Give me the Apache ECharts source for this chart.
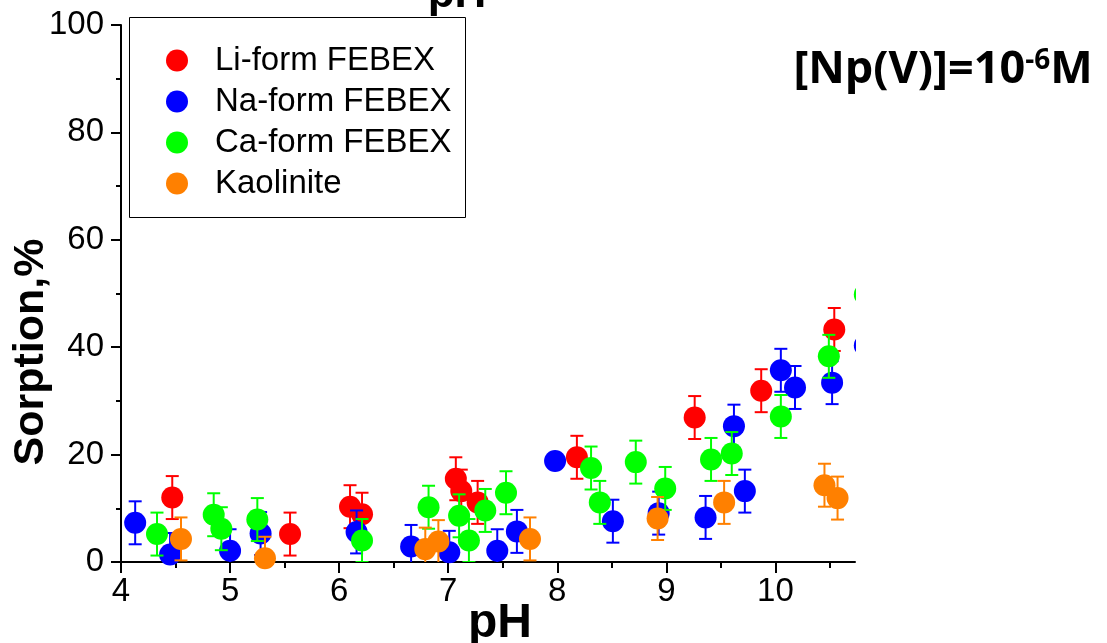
<!DOCTYPE html>
<html>
<head>
<meta charset="utf-8">
<title>Np(V) sorption vs pH</title>
<script src="https://cdn.jsdelivr.net/npm/echarts@6/dist/echarts.min.js"></script>
<style>
  html, body { margin: 0; padding: 0; background: #fff; }
  #main { width: 1107px; height: 643px; }
</style>
</head>
<body>
<div id="main"></div>
<script>
// series names
var seriesNames = ['Li-form FEBEX', 'Na-form FEBEX', 'Ca-form FEBEX', 'Kaolinite'];
var seriesColors = ['#ff0000', '#0000ff', '#00ff00', '#ff8000'];

// Li-form FEBEX
var liPH   = [4.47, 5.55, 6.10, 6.21, 7.07, 7.12, 7.27, 8.18, 9.26, 9.87, 10.54];
var liSorp = [12.0, 5.2, 10.3, 8.9, 15.5, 13.2, 11.1, 19.5, 26.9, 31.9, 43.3];
var liErr  = [4, 4, 4, 4, 4, 4, 4, 4, 4, 4, 4];

// Na-form FEBEX
var naPH   = [4.13, 4.45, 5.00, 5.28, 6.16, 6.66, 7.01, 7.45, 7.63, 7.98, 8.51, 8.93, 9.36, 9.62, 9.72, 10.05, 10.18, 10.52, 10.82];
var naSorp = [7.3, 1.4, 2.1, 5.3, 5.6, 2.9, 1.8, 2.1, 5.7, 18.8, 7.6, 9.1, 8.3, 25.3, 13.2, 35.7, 32.5, 33.4, 40.3];
var naErr  = [4, 4, 4, 4, 4, 4, 4, 4, 4, 0, 4, 4, 4, 4, 4, 4, 4, 4, 4];

// Ca-form FEBEX
var caPH   = [4.33, 4.85, 4.92, 5.25, 6.21, 6.82, 7.10, 7.19, 7.34, 7.53, 8.31, 8.39, 8.72, 8.99, 9.41, 9.60, 10.05, 10.49, 10.82];
var caSorp = [5.2, 8.8, 6.2, 7.9, 4.0, 10.2, 8.6, 4.0, 9.6, 12.9, 17.5, 11.1, 18.6, 13.7, 19.1, 20.2, 27.1, 38.3, 49.8];
var caErr  = [4, 4, 4, 4, 4, 4, 4, 4, 4, 4, 4, 4, 4, 4, 4, 4, 4, 4, 4];

// Kaolinite
var kaPH   = [4.55, 5.32, 6.79, 6.91, 7.75, 8.92, 9.53, 10.45, 10.57];
var kaSorp = [4.3, 0.7, 2.4, 3.8, 4.3, 8.1, 11.1, 14.3, 11.9];
var kaErr  = [4, 4, 4, 4, 4, 4, 4, 4, 4];

// axis ticks
var xMajor = [4, 5, 6, 7, 8, 9, 10];
var xMinor = [4.5, 5.5, 6.5, 7.5, 8.5, 9.5, 10.5];

var allPH = [liPH, naPH, caPH, kaPH];
var allSorp = [liSorp, naSorp, caSorp, kaSorp];
var allErr = [liErr, naErr, caErr, kaErr];

var myChart = echarts.init(document.getElementById('main'));

function errRender(color) {
    return function (params, api) {
        var x = api.value(0), y = api.value(1), e = api.value(2);
        if (!e) return null;
        var top = api.coord([x, y + e]);
        var bot = api.coord([x, y - e]);
        var cap = 6.5;
        var st = { stroke: color, lineWidth: 2, fill: null };
        return {
            type: 'group',
            children: [
                { type: 'line', shape: { x1: top[0], y1: top[1], x2: bot[0], y2: bot[1] }, style: st },
                { type: 'line', shape: { x1: top[0] - cap, y1: top[1], x2: top[0] + cap, y2: top[1] }, style: st },
                { type: 'line', shape: { x1: bot[0] - cap, y1: bot[1], x2: bot[0] + cap, y2: bot[1] }, style: st }
            ]
        };
    };
}

var series = [];
for (var i = 0; i < 4; i++) {
    var pts = [], errPts = [];
    for (var j = 0; j < allPH[i].length; j++) {
        pts.push([allPH[i][j], allSorp[i][j]]);
        errPts.push([allPH[i][j], allSorp[i][j], allErr[i][j]]);
    }
    series.push({
        name: seriesNames[i] + ' err',
        type: 'custom',
        clip: true,
        renderItem: errRender(seriesColors[i]),
        data: errPts,
        z: 2 + i * 2,
        silent: true
    });
    series.push({
        name: seriesNames[i],
        type: 'scatter',
        symbol: 'circle',
        symbolSize: 22,
        clip: false,
        data: pts,
        itemStyle: { color: seriesColors[i], opacity: 1 },
        z: 3 + i * 2
    });
}

var option = {
    backgroundColor: '#fff',
    animation: false,
    grid: { left: 121, right: 252, top: 25, bottom: 81, containLabel: false },
    legend: {
        data: seriesNames.map(function (n) { return { name: n, icon: 'circle' }; }),
        orient: 'vertical',
        left: 166,
        top: 44,
        padding: 0,
        itemGap: 8,
        itemWidth: 22,
        itemHeight: 22,
        selectedMode: false,
        textStyle: {
            fontFamily: 'Liberation Sans, Arial, sans-serif',
            fontSize: 33,
            color: '#000',
            padding: [0, 0, 0, 22]
        }
    },
    xAxis: [{
        type: 'value',
        min: 4,
        max: 10.73,
        interval: 1,
        splitLine: { show: false },
        axisLine: { onZero: false, lineStyle: { color: '#000', width: 2 } },
        axisTick: { customValues: xMajor, length: 11, lineStyle: { color: '#000', width: 2 } },
        axisLabel: {
            customValues: xMajor,
            margin: 13,
            color: '#000',
            fontSize: 33,
            fontFamily: 'Liberation Sans, Arial, sans-serif'
        }
    }, {
        type: 'value',
        min: 4,
        max: 10.73,
        position: 'bottom',
        splitLine: { show: false },
        axisLine: { show: false },
        axisTick: { customValues: xMinor, length: 6, lineStyle: { color: '#000', width: 2 } },
        axisLabel: { show: false }
    }],
    yAxis: {
        type: 'value',
        min: 0,
        max: 100,
        interval: 20,
        splitLine: { show: false },
        axisLine: { show: true, onZero: false, lineStyle: { color: '#000', width: 2 } },
        axisTick: { show: true, length: 10, lineStyle: { color: '#000', width: 2 } },
        minorTick: { show: true, splitNumber: 2, length: 5, lineStyle: { color: '#000', width: 2 } },
        axisLabel: {
            margin: 17,
            color: '#000',
            fontSize: 33,
            fontFamily: 'Liberation Sans, Arial, sans-serif'
        }
    },
    graphic: [
        {
            // the source figure is cropped at the right edge of the plot
            type: 'rect',
            shape: { x: 856, y: 0, width: 251, height: 600 },
            style: { fill: '#fff' },
            z: 50
        },
        {
            type: 'rect',
            shape: { x: 129.5, y: 17.5, width: 336, height: 200 },
            style: { fill: null, stroke: '#000', lineWidth: 1 },
            z: 1
        },
        {
            type: 'text',
            x: 31, y: 352,
            rotation: Math.PI / 2,
            style: {
                text: 'Sorption,%',
                font: 'bold 43px "Liberation Sans", Arial, sans-serif',
                fill: '#000',
                textAlign: 'center',
                textVerticalAlign: 'middle'
            }
        },
        {
            type: 'text',
            x: 500, y: 624,
            style: {
                text: 'pH',
                font: 'bold 48px "Liberation Sans", Arial, sans-serif',
                fill: '#000',
                textAlign: 'center',
                textVerticalAlign: 'middle'
            }
        },
        {
            type: 'text',
            x: 457, y: -5,
            style: {
                text: 'pH',
                font: 'bold 44px "Liberation Sans", Arial, sans-serif',
                fill: '#000',
                textAlign: 'center',
                textVerticalAlign: 'middle'
            }
        },
        {
            type: 'text',
            x: 943, y: 70,
            z: 60,
            style: {
                text: '{b|[Np(V)]=10}{s|-6}{b|M}',
                textAlign: 'center',
                textVerticalAlign: 'middle',
                rich: {
                    b: { fontFamily: 'Open Sans', fontWeight: 'bold', fontSize: 45, fill: '#000', color: '#000' },
                    s: { fontFamily: 'Open Sans', fontWeight: 'bold', fontSize: 28, fill: '#000', color: '#000', verticalAlign: 'top', padding: [0, 0, 18, 0] }
                }
            }
        }
    ],
    series: series
};

myChart.setOption(option);
window.addEventListener('resize', function () { myChart.resize(); });
</script>
</body>
</html>
